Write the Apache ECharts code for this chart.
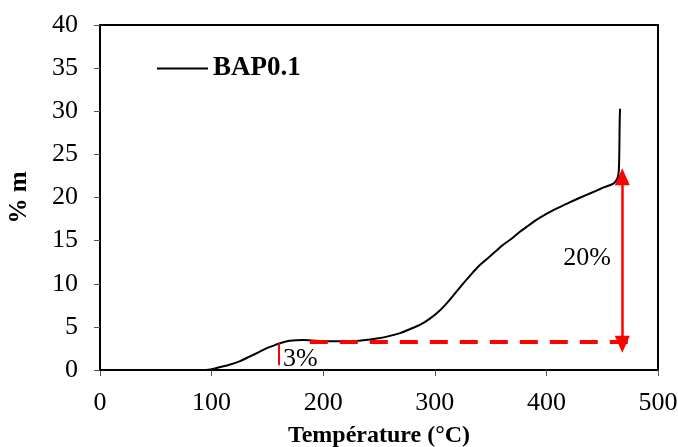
<!DOCTYPE html>
<html>
<head>
<meta charset="utf-8">
<script src="https://cdn.jsdelivr.net/npm/echarts@6/dist/echarts.min.js"></script>
<style>
  html, body { margin: 0; padding: 0; background: #fff; }
  #chart { width: 678px; height: 447px; }
</style>
</head>
<body>
<div id="chart"></div>
<script>
// Mass uptake (% m) of BAP0.1 versus temperature
const temperature = [0, 20, 50, 80, 95, 99, 105, 116, 125, 134, 142, 149, 155, 160, 165, 170, 176, 182, 190, 200, 212, 224, 236, 248, 258, 269, 278, 287, 295, 302, 309, 317, 324, 332, 339, 347, 354, 361, 369, 376, 384, 391, 400, 409, 418, 427, 436, 445, 452, 460, 463.6, 464.8, 465.3, 465.5, 465.7, 466];
const massGain    = [0, -0.05, -0.15, -0.1, 0.0, 0.07, 0.25, 0.6, 1.0, 1.55, 2.05, 2.5, 2.8, 3.05, 3.25, 3.38, 3.45, 3.47, 3.42, 3.36, 3.32, 3.33, 3.45, 3.65, 3.9, 4.28, 4.75, 5.25, 5.9, 6.6, 7.5, 8.7, 9.8, 11.0, 12.0, 12.9, 13.7, 14.5, 15.25, 16.0, 16.75, 17.4, 18.1, 18.7, 19.25, 19.8, 20.3, 20.8, 21.2, 21.6, 22.2, 23.0, 25.0, 27.0, 29.0, 30.3];

const xTicks = { min: 0, max: 500, step: 100 };
const yTicks = { min: 0, max: 40, step: 5 };

// Annotations: plateau reference, step markers and their labels
const plateauLevel = 3.3;
const plateauSpan = [188, 477];
const firstStep = { x: 160, from: 0.55, to: 3.1 };
const secondStep = { x: 468, from: 22.4, to: 3.0 };
const stepLabels = [
  [164, 1.2, '3%'],
  [415, 13.0, '20%']
];

const serif = 'Liberation Serif';
const red = '#ff0000';

const chart = echarts.init(document.getElementById('chart'));
chart.setOption({
  animation: false,
  backgroundColor: '#fff',
  grid: {
    left: 100, right: 20, top: 25, bottom: 77,
    containLabel: false,
    outerBoundsMode: 'none',
    show: true, borderColor: '#000', borderWidth: 2
  },
  legend: {
    data: ['BAP0.1'],
    left: 152, top: 50,
    icon: 'rect', itemWidth: 51, itemHeight: 2, itemGap: 6,
    textStyle: { fontFamily: serif, fontWeight: 'bold', fontSize: 27, color: '#000' }
  },
  xAxis: {
    type: 'value',
    min: xTicks.min, max: xTicks.max, interval: xTicks.step,
    name: 'Température (°C)',
    nameLocation: 'middle', nameGap: 54,
    nameTextStyle: { fontFamily: serif, fontWeight: 'bold', fontSize: 24, color: '#000' },
    axisLine: { show: true, onZero: false, lineStyle: { color: '#000', width: 2 } },
    axisTick: { show: true, inside: false, length: 6, lineStyle: { color: '#555', width: 1 } },
    axisLabel: { fontFamily: serif, fontSize: 26, color: '#000', margin: 20 },
    splitLine: { show: false }
  },
  yAxis: {
    type: 'value',
    min: yTicks.min, max: yTicks.max, interval: yTicks.step,
    name: '% m',
    nameLocation: 'middle', nameGap: 68, nameRotate: 90,
    nameTextStyle: { fontFamily: serif, fontWeight: 'bold', fontSize: 25, color: '#000' },
    axisLine: { show: true, onZero: false, lineStyle: { color: '#000', width: 2 } },
    axisTick: { show: true, inside: false, length: 6, lineStyle: { color: '#555', width: 1 } },
    axisLabel: { fontFamily: serif, fontSize: 26, color: '#000', margin: 22 },
    splitLine: { show: false }
  },
  series: [
    {
      name: 'BAP0.1',
      type: 'line',
      data: temperature.map((t, i) => [t, massGain[i]]),
      showSymbol: false,
      smooth: 0.3,
      lineStyle: { color: '#000', width: 2 },
      itemStyle: { color: '#000' },
      z: 3
    },
    {
      name: 'annotations',
      type: 'scatter',
      data: stepLabels.map(d => ({ value: [d[0], d[1]], text: d[2] })),
      symbolSize: 0,
      silent: true,
      itemStyle: { opacity: 1, color: '#000' },
      label: {
        show: true,
        position: 'right',
        distance: 0,
        formatter: p => p.data.text,
        fontFamily: serif, fontSize: 26, color: '#000'
      },
      markLine: {
        silent: true,
        animation: false,
        label: { show: false },
        data: [
          [
            { coord: [plateauSpan[0], plateauLevel], symbol: 'none' },
            { coord: [plateauSpan[1], plateauLevel], symbol: 'none',
              lineStyle: { color: red, width: 4, type: [18, 12] } }
          ],
          [
            { coord: [firstStep.x, firstStep.from], symbol: 'none' },
            { coord: [firstStep.x, firstStep.to], symbol: 'none',
              lineStyle: { color: red, width: 2, type: 'solid' } }
          ],
          [
            { coord: [secondStep.x, secondStep.from], symbol: 'triangle', symbolSize: [15, 17] },
            { coord: [secondStep.x, secondStep.to], symbol: 'triangle', symbolSize: [15, 17],
              lineStyle: { color: red, width: 2.5, type: 'solid' } }
          ]
        ],
        lineStyle: { color: red },
        itemStyle: { color: red, opacity: 1 }
      },
      z: 4
    }
  ]
});
</script>
</body>
</html>
